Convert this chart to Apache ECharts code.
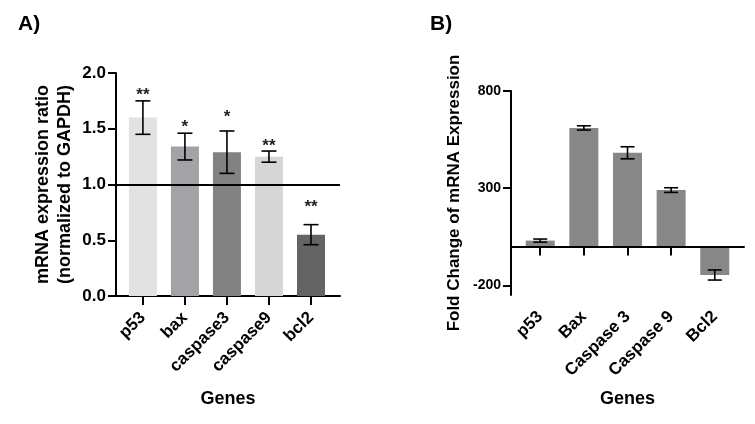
<!DOCTYPE html>
<html>
<head>
<meta charset="utf-8">
<script src="https://cdn.jsdelivr.net/npm/echarts@6/dist/echarts.min.js"></script>
<style>
  html, body { margin: 0; padding: 0; background: #fff; }
  #chart { width: 755px; height: 424px; }
</style>
</head>
<body>
<div id="chart"></div>
<script>
// panel A - relative expression
const genesA = ['p53', 'bax', 'caspase3', 'caspase9', 'bcl2'];
const ratioA = [1.60, 1.34, 1.29, 1.25, 0.55];
const errA = [0.15, 0.12, 0.19, 0.05, 0.09];
const starsA = ['**', '*', '*', '**', '**'];
const starYA = [1.84, 1.55, 1.64, 1.38, 0.83];
const colorsA = ['#e2e2e2', '#a2a2a7', '#828282', '#d6d6d6', '#646464'];
const ticksA = [0, 0.5, 1.0, 1.5, 2.0];
const baselineA = 1.0;

// panel B - fold change
const genesB = ['p53', 'Bax', 'Caspase 3', 'Caspase 9', 'Bcl2'];
const foldB = [30, 610, 482, 290, -147];
const errB = [8, 11, 31, 12, 26];
const ticksB = [-200, 300, 800];
const baselineB = 0;

const font = "'Liberation Sans', Arial, sans-serif";
const idx = [0, 1, 2, 3, 4];

function xAxisFor(gridIndex, names, min, max, gap) {
    return {
        gridIndex: gridIndex,
        type: 'value',
        min: min,
        max: max,
        splitLine: {show: false},
        axisLine: {lineStyle: {color: '#000', width: 2}},
        axisTick: {customValues: idx, length: 9, lineStyle: {color: '#000', width: 2}},
        axisLabel: {
            customValues: idx,
            rotate: 45,
            margin: 19,
            color: '#000',
            fontFamily: font,
            fontWeight: 'bold',
            fontSize: 17,
            formatter: v => names[v] || ''
        },
        name: 'Genes',
        nameLocation: 'middle',
        nameGap: gap,
        nameTextStyle: {color: '#000', fontFamily: font, fontWeight: 'bold', fontSize: 18}
    }
}

function yAxisFor(gridIndex, min, max, ticks, fmt, labelSize, name, nameSize, gap) {
    return {
        gridIndex: gridIndex,
        type: 'value',
        min: min,
        max: max,
        splitLine: {show: false},
        axisLine: {show: true, onZero: false, lineStyle: {color: '#000', width: 2}},
        axisTick: {show: true, customValues: ticks, length: 8, lineStyle: {color: '#000', width: 2}},
        axisLabel: {
            customValues: ticks,
            margin: 10,
            color: '#000',
            fontFamily: font,
            fontWeight: 'bold',
            fontSize: labelSize,
            formatter: fmt
        },
        name: name,
        nameLocation: 'middle',
        nameGap: gap,
        nameTextStyle: {color: '#000', fontFamily: font, fontWeight: 'bold', fontSize: nameSize, lineHeight: 22}
    }
}

function errorBars(gridIndex, means, errs, stars, starY, cap) {
    return {
        type: 'custom',
        xAxisIndex: gridIndex,
        yAxisIndex: gridIndex,
        silent: true,
        z: 5,
        renderItem: function (params, api) {
            const x = api.value(0)
            const lo = api.coord([x, api.value(1)])
            const hi = api.coord([x, api.value(2)])
            const st = {stroke: '#000', lineWidth: 1.6}
            const children = [
                {type: 'line', shape: {x1: hi[0], y1: hi[1], x2: lo[0], y2: lo[1]}, style: st},
                {type: 'line', shape: {x1: hi[0] - cap, y1: hi[1], x2: hi[0] + cap, y2: hi[1]}, style: st},
                {type: 'line', shape: {x1: lo[0] - cap, y1: lo[1], x2: lo[0] + cap, y2: lo[1]}, style: st}
            ]
            if (stars) {
                const sp = api.coord([x, starY[params.dataIndex]])
                children.push({
                    type: 'text',
                    style: {
                        text: stars[params.dataIndex], x: sp[0], y: sp[1] + 4,
                        align: 'center', verticalAlign: 'middle',
                        font: 'bold 17px ' + font, fill: '#222'
                    }
                })
            }
            return {type: 'group', children: children}
        },
        data: means.map((m, i) => [i, m - errs[i], m + errs[i]])
    }
}

const chart = echarts.init(document.getElementById('chart'))
chart.setOption({
    animation: false,
    title: [
        {text: 'A)', left: 13, top: 9, textStyle: {fontFamily: font, fontWeight: 'bold', fontSize: 21, color: '#000'}},
        {text: 'B)', left: 425, top: 9, textStyle: {fontFamily: font, fontWeight: 'bold', fontSize: 21, color: '#000'}}
    ],
    grid: [
        {left: 116, top: 73, width: 224, height: 223},
        {left: 511, top: 91, width: 233, height: 204}
    ],
    xAxis: [
        xAxisFor(0, genesA, -0.64, 4.69, 94),
        xAxisFor(1, genesB, -0.67, 4.67, 95)
    ],
    yAxis: [
        yAxisFor(0, 0, 2, ticksA, v => v.toFixed(1), 17, 'mRNA expression ratio\n(normalized to GAPDH)', 18, 40),
        yAxisFor(1, -250, 800, ticksB, v => String(v), 14, 'Fold Change of mRNA Expression', 17, 46)
    ],
    series: [
        {
            type: 'bar',
            xAxisIndex: 0,
            yAxisIndex: 0,
            barWidth: 28,
            data: ratioA.map((v, i) => ({value: [i, v], itemStyle: {color: colorsA[i]}})),
            markLine: {
                silent: true,
                symbol: 'none',
                label: {show: false},
                lineStyle: {color: '#000', width: 2, type: 'solid'},
                data: [{yAxis: baselineA}]
            }
        },
        errorBars(0, ratioA, errA, starsA, starYA, 7.5),
        {
            type: 'bar',
            xAxisIndex: 1,
            yAxisIndex: 1,
            barWidth: 29,
            itemStyle: {color: '#878787'},
            data: foldB.map((v, i) => [i, v]),
            markLine: {
                silent: true,
                symbol: 'none',
                label: {show: false},
                lineStyle: {color: '#000', width: 2, type: 'solid'},
                data: [{yAxis: baselineB}]
            }
        },
        errorBars(1, foldB, errB, null, null, 7)
    ]
})
</script>
</body>
</html>
